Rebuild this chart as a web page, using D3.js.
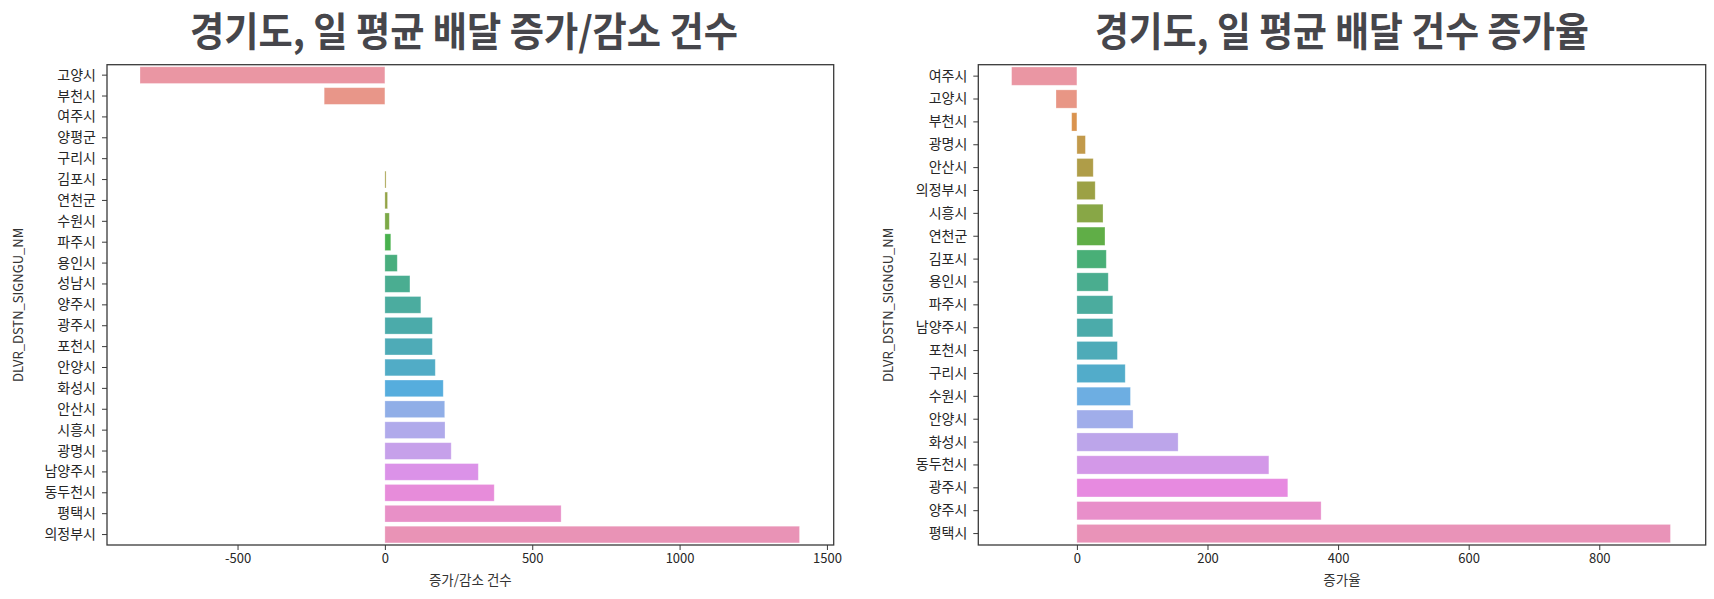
<!DOCTYPE html>
<html>
<head>
<meta charset="utf-8">
<script src="https://cdn.jsdelivr.net/npm/d3@7"></script>
<style>
  html, body { margin: 0; padding: 0; background: #fff; }
  svg { display: block; }
  text { font-family: "Noto Sans CJK KR", "Noto Sans", sans-serif; }
</style>
</head>
<body>
<svg id="chart" width="1714" height="599"></svg>
<script>
// ---------------- data ----------------
const leftTitle = "경기도, 일 평균 배달 증가/감소 건수";
const leftXLabel = "증가/감소 건수";
const leftCategories = ["고양시","부천시","여주시","양평군","구리시","김포시","연천군","수원시","파주시","용인시","성남시","양주시","광주시","포천시","안양시","화성시","안산시","시흥시","광명시","남양주시","동두천시","평택시","의정부시"];
const leftValues = [-831,-206,0,0,0,4,9,15,20,42,85,122,161,161,171,198,203,204,225,317,371,598,1407];
const leftTicks = [-500,0,500,1000,1500];
const leftDomain = [-943, 1523];

const rightTitle = "경기도, 일 평균 배달 건수 증가율";
const rightXLabel = "증가율";
const rightCategories = ["여주시","고양시","부천시","광명시","안산시","의정부시","시흥시","연천군","김포시","용인시","파주시","남양주시","포천시","구리시","수원시","안양시","화성시","동두천시","광주시","양주시","평택시"];
const rightValues = [-100,-32,-8,13,25,28,40,43,45,48,55,55,62,74,82,86,155,294,323,374,909];
const rightTicks = [0,200,400,600,800];
const rightDomain = [-151, 963];

const yLabel = "DLVR_DSTN_SIGNGU_NM";

// ---------------- seaborn-like husl palette ----------------
const M = [[3.2406,-1.5372,-0.4986],[-0.9689,1.8758,0.0415],[0.0557,-0.2040,1.0570]];
function maxChroma(L, H) {
  const hrad = H * Math.PI / 180, sinH = Math.sin(hrad), cosH = Math.cos(hrad);
  const sub1 = Math.pow(L + 16, 3) / 1560896.0;
  const sub2 = sub1 > 0.008856 ? sub1 : L / 903.3;
  let result = Infinity;
  for (const [m1, m2, m3] of M) {
    const top = (0.99915*m1 + 1.05122*m2 + 1.14460*m3) * sub2;
    const rb = 0.86330*m3 - 0.17266*m2;
    const lb = 0.12949*m3 - 0.38848*m1;
    const bottom = (rb*sinH + lb*cosH) * sub2;
    for (const t of [0, 1]) {
      const C = L * (top - 1.05122*t) / (bottom + 0.17266*sinH*t);
      if (C > 0 && C < result) result = C;
    }
  }
  return result;
}
function huslToRgb(H, S, L) {
  const C = maxChroma(L, H) / 100 * S;
  const hrad = H * Math.PI / 180;
  const U = Math.cos(hrad) * C, V = Math.sin(hrad) * C;
  const refU = 0.19784, refV = 0.46834;
  const t = (L + 16) / 116;
  const varY = Math.pow(t, 3) > 0.008856 ? Math.pow(t, 3) : (116*t - 16) / 903.3;
  const varU = U / (13*L) + refU, varV = V / (13*L) + refV;
  const Y = varY;
  const X = 0 - (9*Y*varU) / ((varU - 4)*varV - varU*varV);
  const Z = (9*Y - 15*varV*Y - varV*X) / (3*varV);
  const fl = c => c <= 0.0031308 ? 12.92*c : 1.055*Math.pow(c, 1/2.4) - 0.055;
  return M.map(r => Math.min(1, Math.max(0, fl(r[0]*X + r[1]*Y + r[2]*Z))));
}
function huslPalette(n) {
  const out = [];
  for (let i = 0; i < n; i++) {
    let h = (i / n + 0.01) % 1;
    const rgb = huslToRgb(h * 359, 0.9 * 99, 0.7 * 99);
    const c = d3.hsl(d3.rgb(rgb[0]*255, rgb[1]*255, rgb[2]*255));
    c.s *= 0.75;
    out.push(c.formatHex());
  }
  return out;
}

// ---------------- drawing ----------------
const svg = d3.select("#chart");
const AX = "#3a3a3a";

function drawPanel(cfg) {
  const { left, right, top, bottom, cats, vals, ticks, domain, title, titleX, titleW, xlabel, ylabelX } = cfg;
  const g = svg.append("g");
  const x = d3.scaleLinear().domain(domain).range([left, right]);
  const y = d3.scaleBand().domain(cats).range([top, bottom]).paddingInner(0.2).paddingOuter(0.1);
  const colors = huslPalette(cats.length);

  g.selectAll("rect.bar").data(cats).join("rect")
    .attr("class", "bar")
    .attr("x", (d, i) => Math.min(x(0), x(vals[i])))
    .attr("width", (d, i) => Math.abs(x(vals[i]) - x(0)))
    .attr("y", d => y(d))
    .attr("height", y.bandwidth())
    .attr("fill", (d, i) => colors[i])
    .attr("stroke", "#ffffff").attr("stroke-opacity", 0.35).attr("stroke-width", 0.8);

  // frame
  g.append("rect").attr("x", left).attr("y", top).attr("width", right - left).attr("height", bottom - top)
    .attr("fill", "none").attr("stroke", AX).attr("stroke-width", 1.3);

  // x axis
  const xa = g.append("g").attr("transform", `translate(0,${bottom})`)
    .call(d3.axisBottom(x).tickValues(ticks).tickSize(5).tickPadding(4).tickFormat(d3.format("d")));
  xa.select(".domain").remove();
  xa.selectAll("line").attr("stroke", AX).attr("stroke-width", 1);
  xa.selectAll("text").attr("fill", "#262626").attr("font-size", 13).attr("font-family", "'Noto Sans CJK KR', sans-serif");
  xa.selectAll("text").text(d => d < 0 ? "-" + Math.abs(d) : d);

  // y axis
  const ya = g.append("g").attr("transform", `translate(${left},0)`)
    .call(d3.axisLeft(y).tickSize(5).tickPadding(6));
  ya.select(".domain").remove();
  ya.selectAll("line").attr("stroke", AX).attr("stroke-width", 1);
  ya.selectAll("text").attr("fill", "#262626").attr("font-size", 14).attr("font-family", "'Noto Sans CJK KR', sans-serif");

  // labels
  g.append("text").attr("x", (left + right) / 2).attr("y", 585)
    .attr("text-anchor", "middle").attr("font-size", 13.5).attr("fill", "#333").text(xlabel);
  g.append("text").attr("transform", `translate(${ylabelX},${(top + bottom) / 2}) rotate(-90)`)
    .attr("text-anchor", "middle").attr("font-size", 13).attr("fill", "#333").text(yLabel);

  // title
  g.append("text").attr("x", titleX).attr("y", 46)
    .attr("text-anchor", "middle").attr("font-size", 40).attr("font-weight", 700)
    .attr("fill", "#46464b")
    .attr("textLength", titleW).attr("lengthAdjust", "spacingAndGlyphs")
    .text(title);
}

drawPanel({ left: 107, right: 833.7, top: 64.7, bottom: 545, cats: leftCategories, vals: leftValues,
  ticks: leftTicks, domain: leftDomain, title: leftTitle, titleX: 464, titleW: 548, xlabel: leftXLabel, ylabelX: 23 });
drawPanel({ left: 978.3, right: 1705.7, top: 64.7, bottom: 545, cats: rightCategories, vals: rightValues,
  ticks: rightTicks, domain: rightDomain, title: rightTitle, titleX: 1342, titleW: 494, xlabel: rightXLabel, ylabelX: 893 });
</script>
</body>
</html>
